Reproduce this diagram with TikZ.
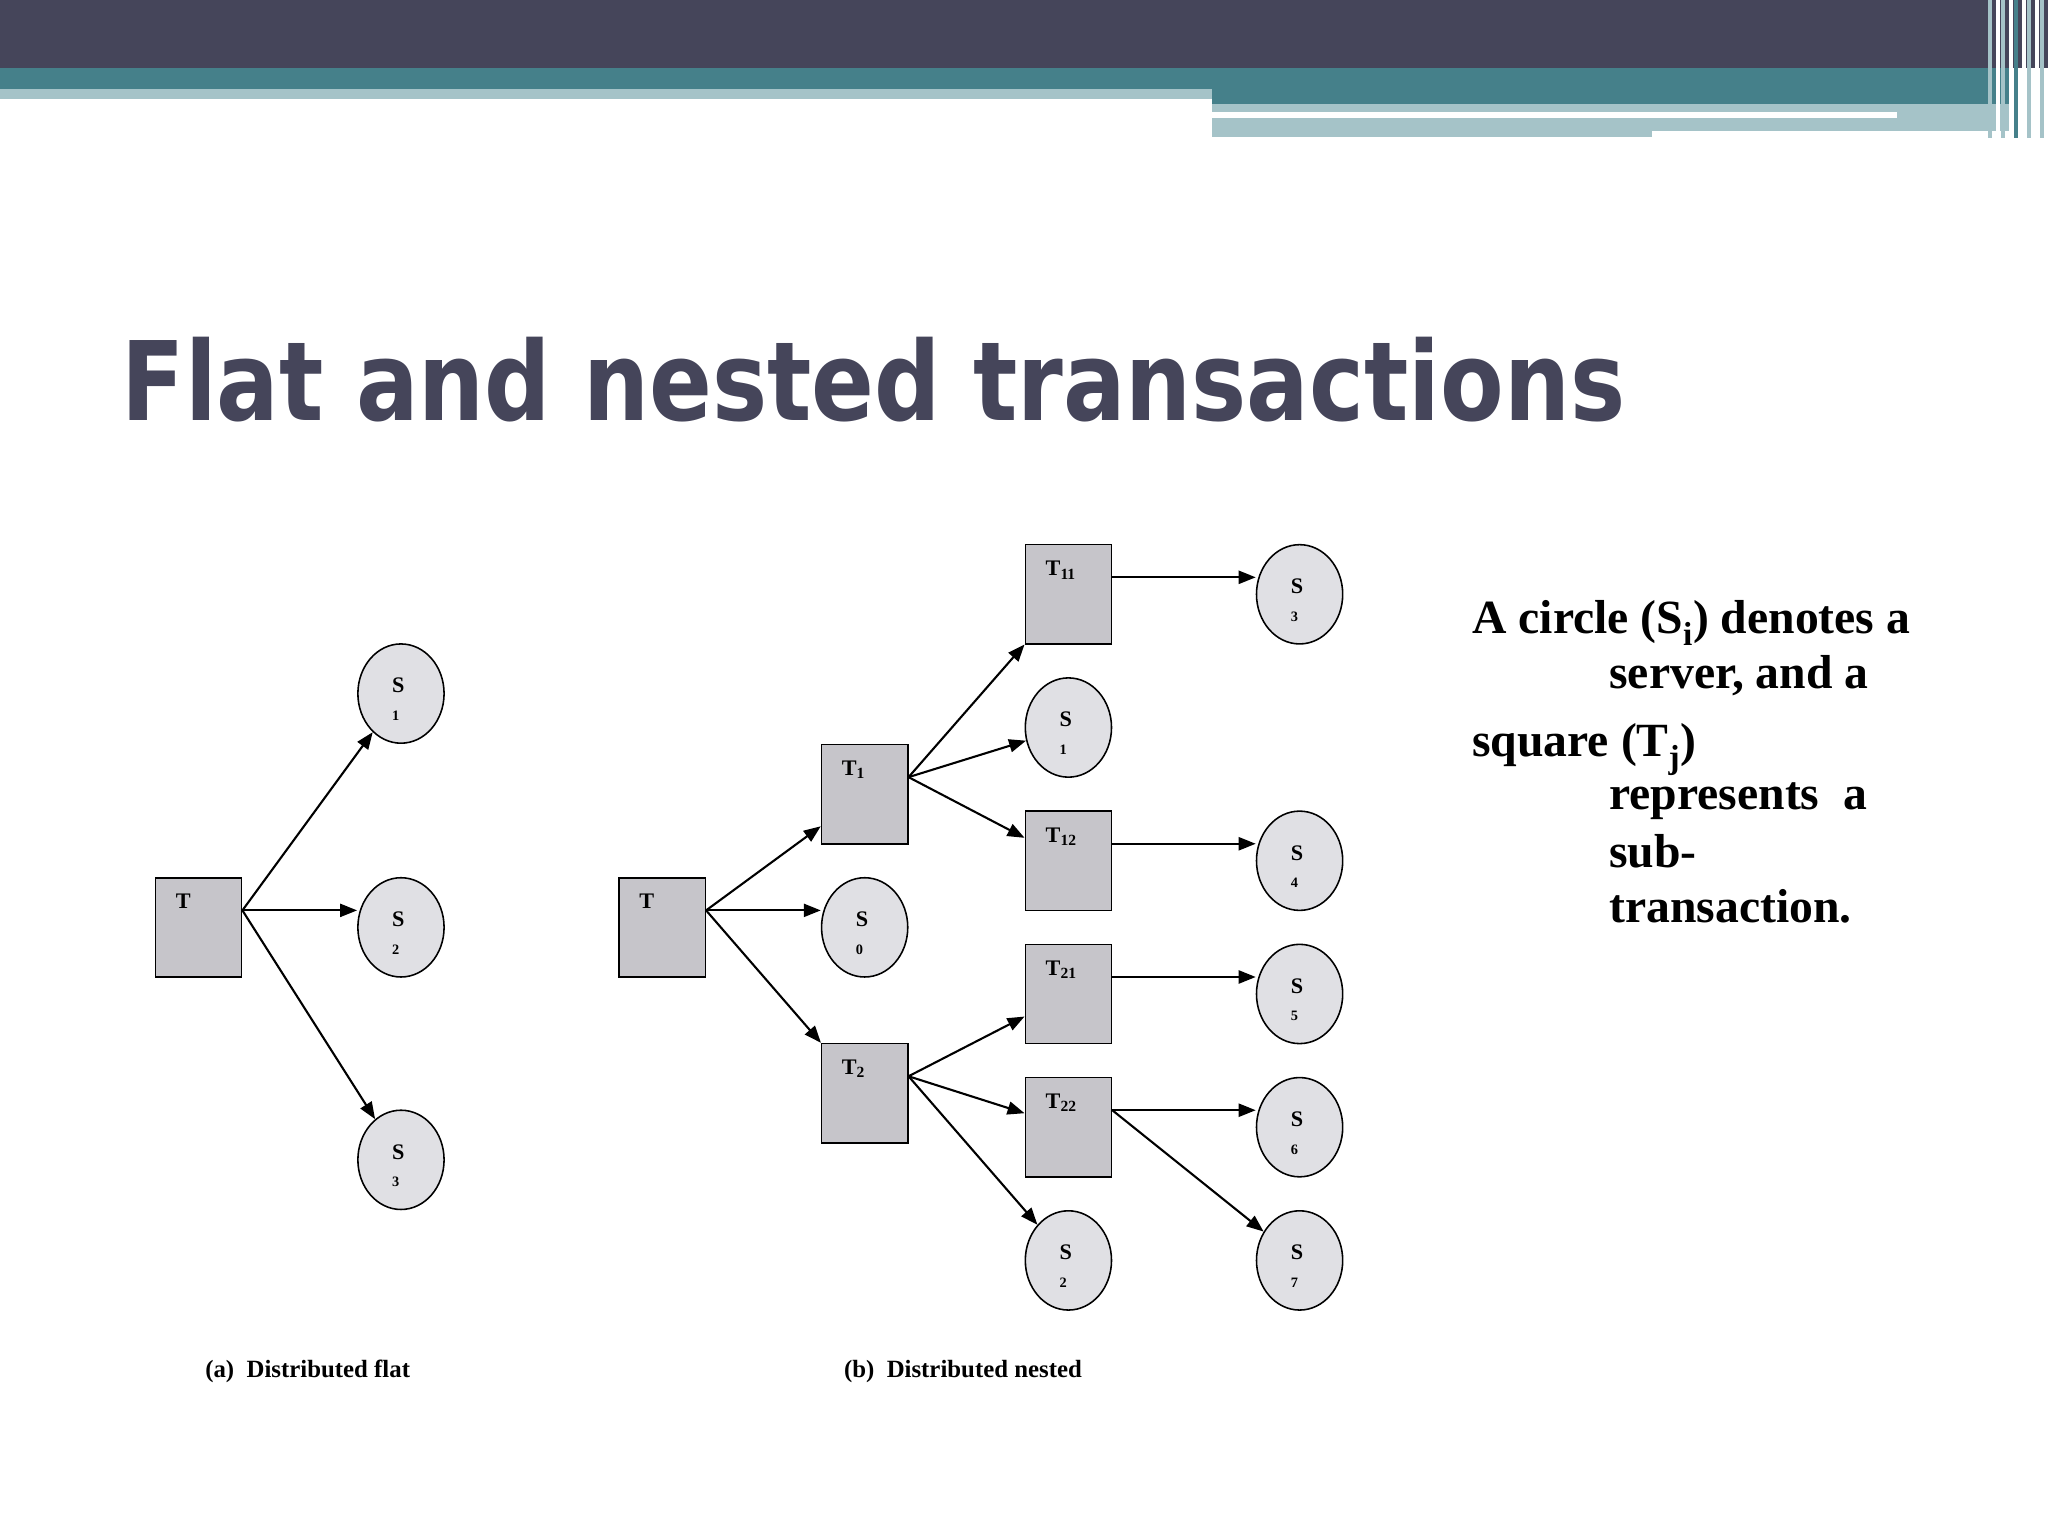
\documentclass[tikz,border=0pt]{standalone}
\usepackage{fontspec}
\setmainfont{Liberation Serif}
\newfontfamily\titlefont{DejaVu Sans}
\usetikzlibrary{arrows.meta,shapes.geometric}
\definecolor{dk}{HTML}{45455A}
\definecolor{tl}{HTML}{45808A}
\definecolor{lt}{HTML}{A5C3C8}
\definecolor{sqf}{HTML}{C6C5CA}
\definecolor{cif}{HTML}{E0E0E4}
\tikzset{
 sq/.style={draw=black,fill=sqf,minimum width=66pt,minimum height=76pt,inner sep=0pt,line width=1.2pt},
 ci/.style={draw=black,fill=cif,ellipse,minimum width=66pt,minimum height=76pt,inner sep=0pt,line width=1.2pt},
 lab/.style={font=\bfseries\fontsize{17}{17}\selectfont,inner sep=0pt},
 sub/.style={font=\bfseries\fontsize{11}{11}\selectfont,inner sep=0pt},
 ar/.style={-{Triangle[length=13pt,width=10pt]},line width=1.6pt},
 captext/.style={font=\bfseries\fontsize{19}{19}\selectfont,anchor=base west,inner sep=0pt},
 rt/.style={font=\bfseries\fontsize{36.5}{36.5}\selectfont,anchor=base west,inner sep=0pt}
}
\begin{document}
\begin{tikzpicture}[x=1pt,y=-1pt]
\useasboundingbox (0,0) rectangle (1568,1176);
\fill[white] (0,0) rectangle (1568,1176);
% header
\fill[dk] (0,0) rectangle (1568,52);
\fill[tl] (0,52) rectangle (1540,68);
\fill[lt] (0,68) rectangle (928,76);
\fill[tl] (928,68) rectangle (1540,80);
\fill[lt] (928,80) rectangle (1540,105);
\fill[white] (928,86) rectangle (1452,90);
\fill[white] (1265,100) rectangle (1540,106);
\foreach \x/\c in {1522/lt,1528/white,1532/lt,1538/white,1542/tl,1548/white,1552/lt,1558/white,1562/lt}
  \fill[\c] (\x,0) rectangle ++(3,106);
% title
\node[anchor=base west,inner sep=0pt,text=dk,font=\titlefont\bfseries\fontsize{84}{84}\selectfont] (title) at (93,322) {\scalebox{0.845}[1]{Flat and nested transactions}};
% flat
\node[sq] (fT) at (152,710) {};
\node[ci] (fS1) at (307,531) {};
\node[ci] (fS2) at (307,710) {};
\node[ci] (fS3) at (307,888) {};
% nested
\node[sq] (nT) at (507,710) {};
\node[ci] (nS0) at (662,710) {};
\node[sq] (T1) at (662,608) {};
\node[sq] (T2) at (662,837) {};
\node[sq] (T11) at (818,455) {};
\node[ci] (nS1) at (818,557) {};
\node[sq] (T12) at (818,659) {};
\node[sq] (T21) at (818,761) {};
\node[sq] (T22) at (818,863) {};
\node[ci] (nS2) at (818,965) {};
\node[ci] (nS3) at (995,455) {};
\node[ci] (nS4) at (995,659) {};
\node[ci] (nS5) at (995,761) {};
\node[ci] (nS6) at (995,863) {};
\node[ci] (nS7) at (995,965) {};
% square labels
\foreach \n/\t in {fT/T,nT/T,T1/T\textsubscript{1},T2/T\textsubscript{2},T11/T\textsubscript{11},T12/T\textsubscript{12},T21/T\textsubscript{21},T22/T\textsubscript{22}}
  \node[lab,anchor=north west] at ([xshift=16pt,yshift=-13pt]\n.north west) {\t};
% circle labels
\foreach \n/\d in {fS1/1,fS2/2,fS3/3,nS0/0,nS1/1,nS2/2,nS3/3,nS4/4,nS5/5,nS6/6,nS7/7}{
  \node[lab] at ([xshift=-2pt,yshift=6pt]\n.center) {S};
  \node[sub] at ([xshift=-4pt,yshift=-17pt]\n.center) {\d};
}
% arrows
\foreach \a/\b in {fT/fS1,fT/fS3,nT/T1,nT/T2,T1/T11,T1/nS1,T1/T12,T2/T21,T2/T22,T2/nS2,T22/nS7}
  \draw[ar] ([yshift=13pt]\a.east) -- (\b);
\foreach \a/\b in {fT/fS2,nT/nS0,T11/nS3,T12/nS4,T21/nS5,T22/nS6}
  \draw[ar] ([yshift=13pt]\a.east) -- ([yshift=13pt]\b.west);
% captions
\node[captext] (ca) at (157,1055) {(a)\ \ Distributed flat};
\node[captext] (cb) at (646,1055) {(b)\ \ Distributed nested};
% right text
\node[rt] at (1127,485) {A circle (S\textsubscript{i}) denotes a};
\node[rt] at (1232,527) {server, and a};
\node[rt] at (1127,579) {square (T\textsubscript{j})};
\node[rt] at (1232,620) {represents\ \ a};
\node[rt] at (1232,664) {sub-};
\node[rt] at (1232,706) {transaction.};
\end{tikzpicture}
\end{document}
